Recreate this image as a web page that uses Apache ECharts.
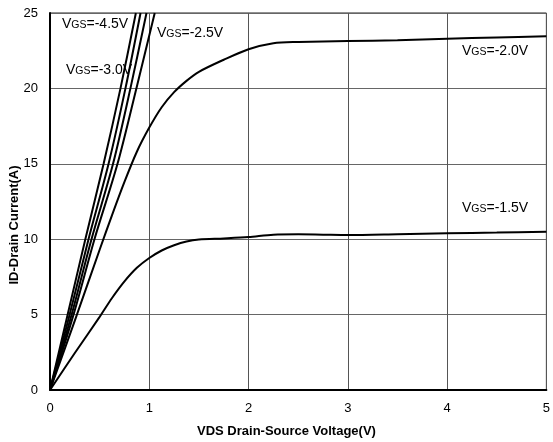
<!DOCTYPE html>
<html>
<head>
<meta charset="utf-8">
<script src="https://cdn.jsdelivr.net/npm/echarts@6/dist/echarts.min.js"></script>
<style>
  html, body { margin: 0; padding: 0; background: #fff; }
  #chart { width: 553px; height: 442px; }
</style>
</head>
<body>
<div id="chart"></div>
<script>
// Output characteristics: drain current vs drain-source voltage for several gate voltages
const xTicks = [0, 1, 2, 3, 4, 5];
const yTicks = [0, 5, 10, 15, 20, 25];

// [VDS (V), ID (A)] samples for each gate voltage
const vgs45 = [[0, 0], [0.178, 5], [0.356, 10], [0.54, 15], [0.71, 20], [0.865, 25]];
const vgs35 = [[0, 0], [0.198, 5], [0.388, 10], [0.59, 15], [0.76, 20], [0.912, 25]];
const vgs30 = [[0, 0], [0.218, 5], [0.418, 10], [0.635, 15], [0.81, 20], [0.972, 25]];
const vgs25 = [[0, 0], [0.237, 5], [0.448, 10], [0.68, 15], [0.87, 20], [1.055, 25]];
const vgs20 = [[0, 0], [0.25, 4.6], [0.5, 9.3], [0.625, 11.6], [0.75, 13.8], [0.875, 15.8], [1.0, 17.4],
               [1.125, 18.75], [1.25, 19.75], [1.375, 20.5], [1.5, 21.1], [1.75, 21.9], [2.0, 22.6],
               [2.25, 23.0], [2.5, 23.08], [3.0, 23.14], [3.5, 23.2], [4.0, 23.3], [4.5, 23.38], [5.0, 23.45]];
const vgs15 = [[0, 0], [0.25, 2.45], [0.5, 4.85], [0.625, 6.1], [0.75, 7.2], [0.875, 8.1], [1.0, 8.75],
               [1.125, 9.25], [1.25, 9.6], [1.375, 9.85], [1.5, 9.98], [1.75, 10.05], [2.0, 10.14],
               [2.25, 10.3], [2.5, 10.32], [2.75, 10.3], [3.0, 10.28], [3.5, 10.33], [4.0, 10.39],
               [4.5, 10.44], [5.0, 10.5]];

const curveNames = ['-4.5V', '-3.5V', '-3.0V', '-2.5V', '-2.0V', '-1.5V'];
const curveData = [vgs45, vgs35, vgs30, vgs25, vgs20, vgs15];

const FONT = '"Liberation Sans", Arial, sans-serif';

function vgsLabel(value, left, top) {
  return {
    type: 'text',
    left: left,
    top: top,
    style: {
      rich: {
        v: { fontFamily: FONT, fontSize: 14, fill: '#000' },
        s: { fontFamily: FONT, fontSize: 10.5, fill: '#000', padding: [3, 0, 0, 0] }
      },
      text: '{v|V}{s|GS}{v|=' + value + '}'
    }
  };
}

const chart = echarts.init(document.getElementById('chart'), null, { renderer: 'canvas' });

chart.setOption({
  animation: false,
  backgroundColor: '#fff',
  grid: {
    left: 50, right: 4, top: 13, bottom: 52,
    show: true, borderColor: '#222', borderWidth: 1
  },
  xAxis: {
    type: 'value',
    min: xTicks[0], max: xTicks[xTicks.length - 1], interval: 1,
    axisLine: { show: true, onZero: false, lineStyle: { color: '#000', width: 2 } },
    axisTick: { show: false },
    axisLabel: { fontFamily: FONT, fontSize: 13, color: '#000', margin: 12 },
    splitLine: { show: true, lineStyle: { color: '#555', width: 1 } }
  },
  yAxis: {
    type: 'value',
    min: yTicks[0], max: yTicks[yTicks.length - 1], interval: 5,
    axisLine: { show: true, onZero: false, lineStyle: { color: '#000', width: 2 } },
    axisTick: { show: false },
    axisLabel: { fontFamily: FONT, fontSize: 13, color: '#000', margin: 12 },
    splitLine: { show: true, lineStyle: { color: '#666', width: 1 } }
  },
  series: curveData.map((d, i) => ({
    name: curveNames[i],
    type: 'line',
    data: d,
    smooth: 0.3,
    symbol: 'none',
    clip: true,
    lineStyle: { color: '#000', width: 2 }
  })),
  graphic: [
    vgsLabel('-4.5V', 62, 17),
    vgsLabel('-3.0V', 66, 63),
    vgsLabel('-2.5V', 157, 26),
    vgsLabel('-2.0V', 462, 44),
    vgsLabel('-1.5V', 462, 201),
    {
      type: 'text',
      left: 197, top: 425,
      style: { text: 'VDS Drain-Source Voltage(V)', fontFamily: FONT, fontSize: 13, fontWeight: 'bold', fill: '#000' }
    },
    {
      type: 'text',
      x: 8, y: 225,
      rotation: Math.PI / 2,
      style: { text: 'ID-Drain Current(A)', fontFamily: FONT, fontSize: 13, fontWeight: 'bold', fill: '#000',
               textAlign: 'center', textVerticalAlign: 'top' }
    }
  ]
});
</script>
</body>
</html>
